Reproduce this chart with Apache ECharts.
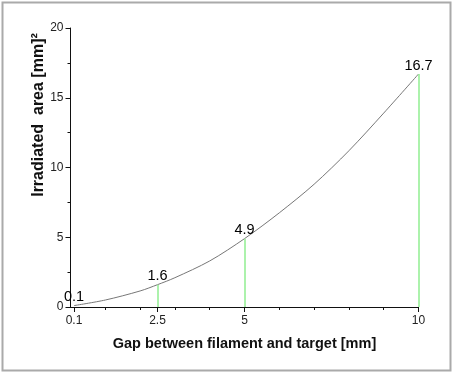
<!DOCTYPE html>
<html>
<head>
<meta charset="utf-8">
<script src="https://cdn.jsdelivr.net/npm/echarts@6/dist/echarts.min.js"></script>
<style>
html,body{margin:0;padding:0;background:#fff;}
#c{width:454px;height:375px;}
</style>
</head>
<body>
<div id="c"></div>
<script>
// Curve samples
var gapValues = [0.1, 1, 2, 2.5, 3, 4, 5, 6, 7, 8, 9, 10];
var areaValues = [0.1, 0.5, 1.15, 1.6, 2.1, 3.3, 4.9, 6.75, 8.8, 11.2, 13.9, 16.7];
// Labelled points
var labelGaps = [0.1, 2.5, 5, 10];
var labelAreas = [0.1, 1.6, 4.9, 16.7];
// Green drop lines
var dropGaps = [2.5, 5, 10];
var dropAreas = [1.6, 4.9, 16.7];
// Tick labels
var xTickValues = [0.1, 2.5, 5, 10];
var xMinorTicks = [1, 2, 3, 4, 6, 7, 8, 9];

var FONT = '"Liberation Sans", Arial, sans-serif';

var chart = echarts.init(document.getElementById('c'), null, {renderer: 'canvas'});

var curve = gapValues.map(function (g, i) { return [g, areaValues[i]]; });
var labelled = labelGaps.map(function (g, i) { return [g, labelAreas[i]]; });
var drops = dropGaps.map(function (g, i) {
  return [{coord: [g, 0]}, {coord: [g, dropAreas[i]]}];
});

chart.setOption({
  animation: false,
  backgroundColor: '#fff',
  grid: {left: 70.5, right: 35.5, top: 28, bottom: 68, containLabel: false},
  graphic: [
    {type: 'rect', shape: {x: 2.5, y: 2.5, width: 448, height: 368},
     style: {fill: 'none', stroke: '#aaaaaa', lineWidth: 2}, silent: true},
    {type: 'text', x: 39, y: 115, rotation: Math.PI / 2,
     style: {text: 'Irradiated  area [mm]\u00B2', font: 'bold 16px ' + FONT,
             fill: '#111', textAlign: 'center', textVerticalAlign: 'middle'}}
  ],
  xAxis: [{
    type: 'value', min: 0, max: 10,
    name: 'Gap between filament and target [mm]',
    nameLocation: 'middle', nameGap: 29,
    nameTextStyle: {fontFamily: FONT, fontWeight: 'bold', fontSize: 14.5, color: '#111'},
    axisLine: {show: true, lineStyle: {color: '#111', width: 1}},
    axisTick: {show: true, length: 5, customValues: xTickValues, lineStyle: {color: '#111'}},
    axisLabel: {show: true, customValues: xTickValues, fontFamily: FONT, fontSize: 12, color: '#222', margin: 8,
      formatter: function (v) { return String(v); }},
    splitLine: {show: false}
  }, {
    type: 'value', min: 0, max: 10, position: 'bottom', gridIndex: 0,
    axisLine: {show: false},
    axisTick: {show: true, length: 3, customValues: xMinorTicks, lineStyle: {color: '#111'}},
    axisLabel: {show: false},
    splitLine: {show: false}
  }],
  yAxis: {
    type: 'value', min: 0, max: 20, interval: 5,
    axisLine: {show: true, lineStyle: {color: '#111', width: 1}},
    axisTick: {show: true, length: 5, lineStyle: {color: '#111'}},
    minorTick: {show: true, splitNumber: 2, length: 3, lineStyle: {color: '#111'}},
    axisLabel: {fontFamily: FONT, fontSize: 12, color: '#222', margin: 7},
    splitLine: {show: false}
  },
  series: [{
    type: 'line', data: curve, smooth: 0.3, showSymbol: false,
    lineStyle: {color: '#777', width: 1}, silent: true, z: 3
  }, {
    type: 'scatter', data: labelled, symbolSize: 0.01, silent: true, z: 4,
    itemStyle: {opacity: 1},
    label: {show: true, position: 'top', distance: 1, fontFamily: FONT, fontSize: 14.5, color: '#000',
      formatter: function (p) { return String(p.value[1]); }},
    markLine: {
      silent: true, symbol: ['none', 'none'],
      lineStyle: {color: '#90ee90', width: 1.5, type: 'solid'},
      label: {show: false},
      data: drops
    }
  }]
});
</script>
</body>
</html>
